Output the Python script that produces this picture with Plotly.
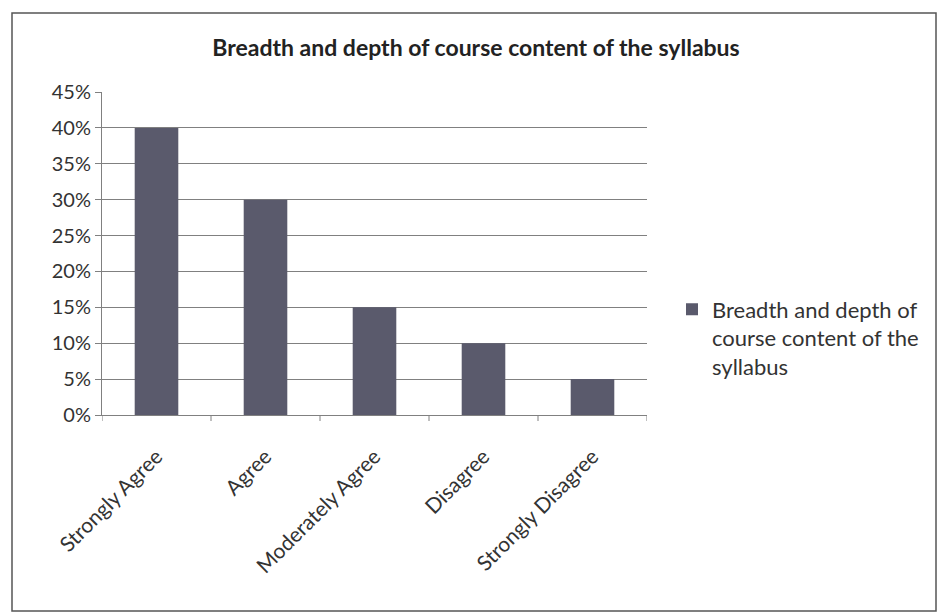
import plotly.graph_objects as go

categories = ["Strongly Agree", "Agree", "Moderately Agree", "Disagree", "Strongly Disagree"]
values = [0.40, 0.30, 0.15, 0.10, 0.05]
series_name = "Breadth and depth of<br>course content of the<br>syllabus"
title_text = "Breadth and depth of course content of the syllabus"
y_ticks = [0, 0.05, 0.10, 0.15, 0.20, 0.25, 0.30, 0.35, 0.40, 0.45]
y_tick_labels = ["0%", "5%", "10%", "15%", "20%", "25%", "30%", "35%", "40%", "45%"]

font_family = "Lato, 'Open Sans', sans-serif"

fig = go.Figure()
fig.add_trace(go.Bar(
    x=categories, y=values, name=series_name,
    marker=dict(color="#5a5a6c", line=dict(width=0)),
    width=0.4, showlegend=True,
))

W, H = 939, 614
L, R, T, B = 102, 292, 92, 199
pw, ph = W - L - R, H - T - B

def px_to_paper_x(px):
    return (px - L) / pw

def px_to_paper_y(py):
    return (H - B - py) / ph

fig.update_layout(
    width=W, height=H,
    margin=dict(l=L, r=R, t=T, b=B),
    paper_bgcolor="white", plot_bgcolor="white",
    font=dict(family=font_family, color="#333333", size=18),
    title=dict(text="<b>" + title_text + "</b>", x=px_to_paper_x(476), xref="paper",
               xanchor="center", y=1 - 48 / H, yanchor="middle",
               font=dict(size=23, color="#222222", family=font_family)),
    legend=dict(x=px_to_paper_x(672), y=px_to_paper_y(338), xanchor="left", yanchor="middle",
                font=dict(size=22, color="#333333"), bgcolor="rgba(0,0,0,0)",
                itemwidth=30, tracegroupgap=0, valign="top"),
    xaxis=dict(showgrid=False, showline=True, linecolor="#808080", linewidth=1,
               ticks="", tickangle=-45, tickfont=dict(size=21, color="#333333"),
               ticklabelstandoff=20, range=[-0.5, 4.5]),
    yaxis=dict(range=[0, 0.45], tickvals=y_ticks, ticktext=y_tick_labels,
               showgrid=True, gridcolor="#808080", gridwidth=1,
               showline=True, linecolor="#808080", linewidth=1,
               ticks="outside", ticklen=6, tickcolor="#808080",
               tickfont=dict(size=20, color="#333333"), zeroline=False),
    shapes=[
        dict(type="rect", xref="paper", yref="paper",
             x0=px_to_paper_x(12), x1=px_to_paper_x(936),
             y0=px_to_paper_y(611), y1=px_to_paper_y(13),
             line=dict(color="#555555", width=1.5), fillcolor="rgba(0,0,0,0)", layer="below"),
    ],
)

# category boundary tick marks on x axis
for i in range(len(categories) + 1):
    fig.add_shape(type="line", xref="x", yref="paper", x0=i - 0.5, x1=i - 0.5,
                  y0=0, y1=-6 / ph, line=dict(color="#808080", width=1))

fig.write_html("out.html", config={"displayModeBar": False},
               post_script="document.body.style.margin='0px';")
